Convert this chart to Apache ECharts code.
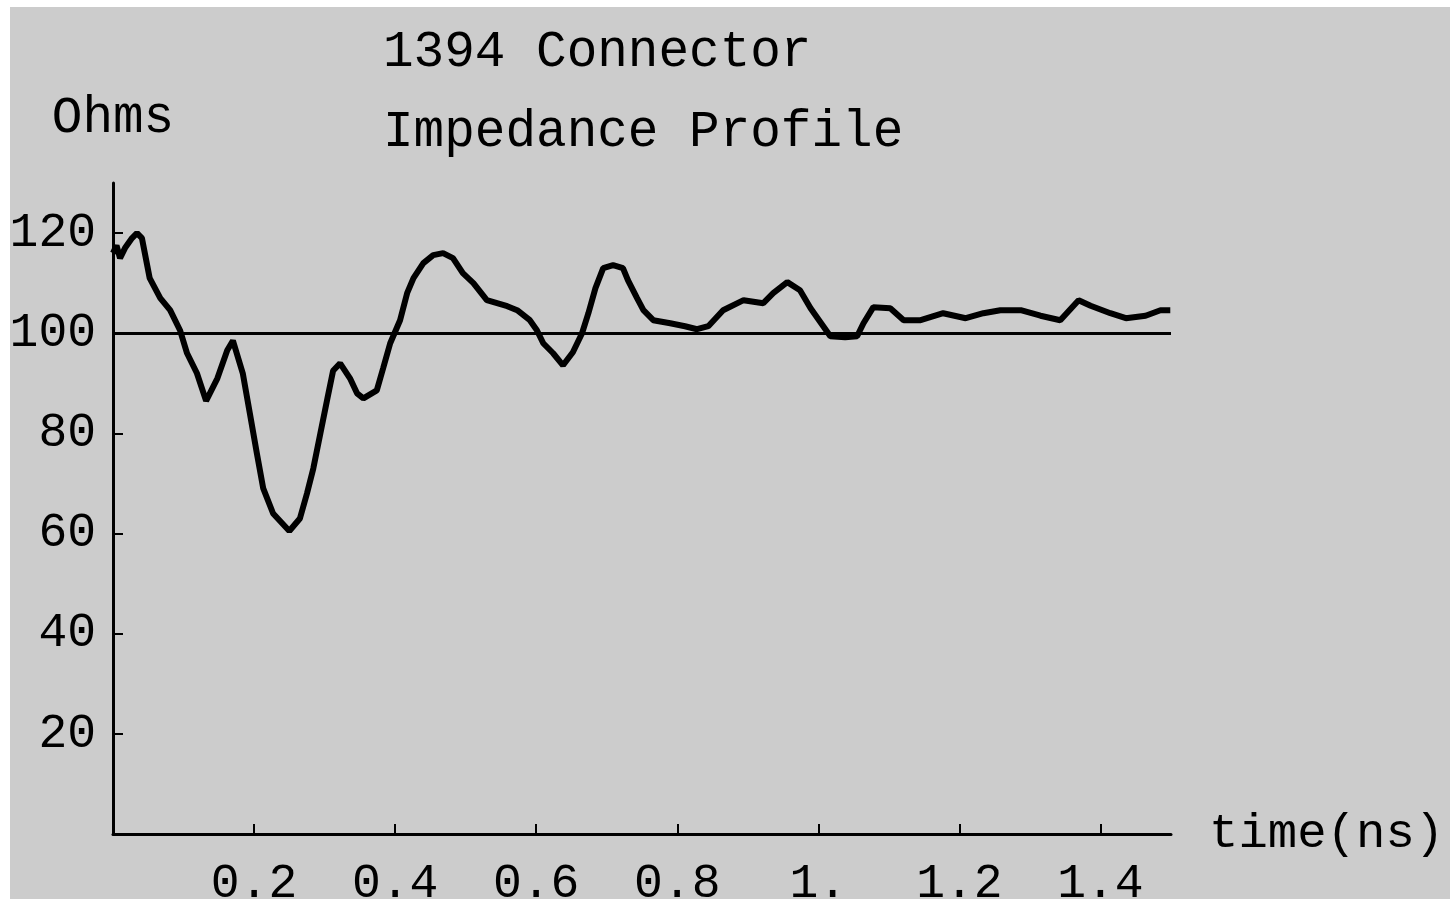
<!DOCTYPE html>
<html>
<head>
<meta charset="utf-8">
<title>1394 Connector Impedance Profile</title>
<script src="https://cdn.jsdelivr.net/npm/echarts@6/dist/echarts.min.js"></script>
<style>
html,body{margin:0;padding:0;background:#ffffff;}
#chart{position:absolute;left:10px;top:7px;width:1440px;height:892px;}
</style>
</head>
<body>
<div id="chart"></div>
<script>
// time axis (ns) and impedance (Ohms)
var times = [0.000,0.005,0.010,0.017,0.027,0.034,0.041,0.052,0.067,0.081,0.095,0.105,0.119,0.132,
	0.148,0.162,0.170,0.184,0.194,0.204,0.213,0.227,0.250,0.265,0.275,0.284,0.294,0.304,0.312,0.322,
	0.336,0.346,0.355,0.374,0.383,0.393,0.407,0.417,0.426,0.440,0.454,0.468,0.482,0.496,0.511,0.530,
	0.559,0.573,0.591,0.601,0.610,0.624,0.638,0.652,0.665,0.674,0.684,0.695,0.709,0.723,0.730,0.743,
	0.752,0.766,0.790,0.811,0.828,0.844,0.865,0.894,0.922,0.936,0.956,0.974,0.989,1.003,1.017,1.038,
	1.055,1.064,1.078,1.102,1.121,1.145,1.177,1.209,1.234,1.258,1.287,1.315,1.343,1.369,1.386,1.414,
	1.436,1.464,1.485,1.499];
var ohms = [116,117.5,115,117,119,120,119,111,107,104.6,100.6,96,92,86.5,
	91,96.6,98.5,92,84,76,69,64,60.5,63,68,73,80,87,92.5,94,
	91,88,87,88.6,93,98,102.6,108,111,114,115.6,116,115,112,110,106.6,
	105.4,104.6,102.6,100.6,98,96,93.6,96.2,100,104,109,113,113.6,113,110.6,107,
	104.6,102.6,102,101.4,100.8,101.4,104.6,106.6,106,108,110.2,108.6,105,102.2,99.4,99.2,
	99.4,102,105.2,105,102.6,102.6,104,103,104,104.6,104.6,103.5,102.6,106.6,105.5,104,
	103,103.5,104.6,104.6];
var reference = 100;
var xTicks = [0.2,0.4,0.6,0.8,1.0,1.2,1.4];
var yTicks = [20,40,60,80,100,120];

var pts = [];
for (var i = 0; i < times.length; i++) {
	pts.push([times[i], ohms[i]]);
}

var fnt = '"Liberation Mono", "DejaVu Sans Mono", monospace';
var myChart = echarts.init(document.getElementById('chart'));
var option = {
	backgroundColor: '#cccccc',
	animation: false,
	title: [
		{text: '1394 Connector', left: 368, top: 15,
			textStyle: {fontFamily: fnt, fontSize: 51, fontWeight: 'normal', color: '#000'}},
		{text: 'Impedance Profile', left: 368, top: 95,
			textStyle: {fontFamily: fnt, fontSize: 51, fontWeight: 'normal', color: '#000'}}
	],
	grid: {left: 103, right: 279, top: 176, bottom: 65, containLabel: false, outerBoundsMode: 'none'},
	xAxis: {
		type: 'value',
		min: 0,
		max: 1.5,
		interval: 0.1,
		name: 'time(ns)',
		nameLocation: 'end',
		nameGap: 38,
		nameTextStyle: {fontFamily: fnt, fontSize: 49, color: '#000', verticalAlign: 'middle'},
		splitLine: {show: false},
		axisLine: {lineStyle: {color: '#000', width: 3}},
		axisTick: {inside: true, length: 10, customValues: xTicks, lineStyle: {color: '#000', width: 2}},
		axisLabel: {
			fontFamily: fnt, fontSize: 48, color: '#000', margin: 26,
			customValues: xTicks,
			formatter: function (v) {
				if (Math.abs(v - 1) < 1e-9) return '1.';
				return v.toFixed(1);
			}
		}
	},
	yAxis: {
		type: 'value',
		min: 0,
		max: 130,
		interval: 10,
		name: 'Ohms',
		nameLocation: 'end',
		nameGap: 39,
		nameTextStyle: {fontFamily: fnt, fontSize: 51, color: '#000', align: 'center'},
		splitLine: {show: false},
		axisLine: {lineStyle: {color: '#000', width: 3}},
		axisTick: {inside: true, length: 10, customValues: yTicks, lineStyle: {color: '#000', width: 2}},
		axisLabel: {
			fontFamily: fnt, fontSize: 48, color: '#000', margin: 17,
			customValues: yTicks
		}
	},
	series: [
		{
			type: 'line',
			data: pts,
			showSymbol: false,
			lineStyle: {color: '#000', width: 6},
			markLine: {
				silent: true,
				symbol: 'none',
				label: {show: false},
				lineStyle: {color: '#000', width: 3, type: 'solid'},
				data: [{yAxis: reference}]
			}
		}
	]
};
myChart.setOption(option);
</script>
</body>
</html>
